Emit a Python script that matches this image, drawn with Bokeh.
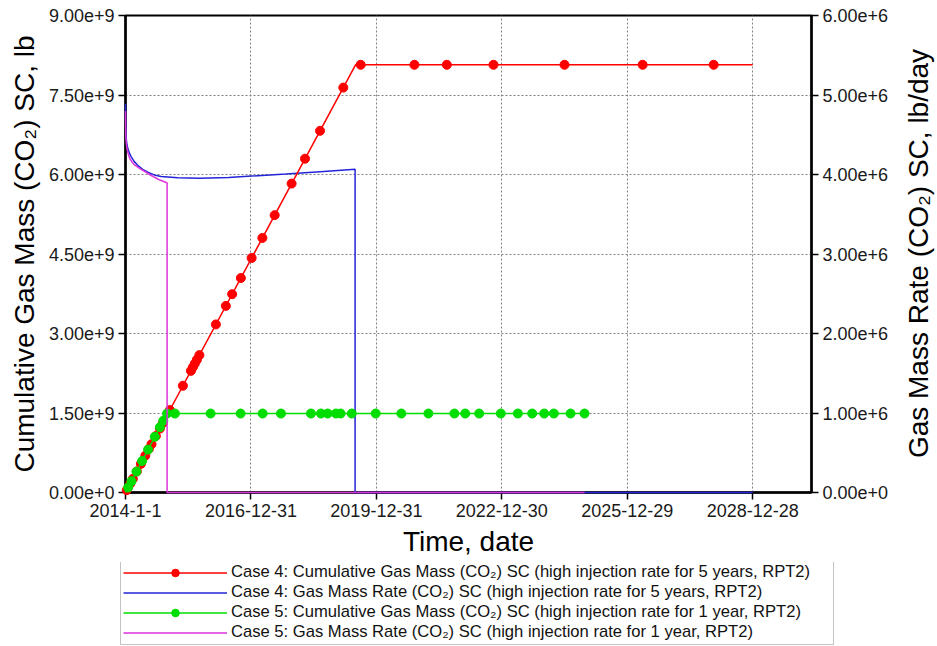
import math
import pandas as pd
from bokeh.plotting import figure
from bokeh.layouts import column, row
from bokeh.models import (Range1d, LinearAxis, FixedTicker, CustomJSTickFormatter,
                          DatetimeTickFormatter, Legend, LegendItem, Label)
from bokeh.embed import file_html
from bokeh.resources import INLINE

START = pd.Timestamp("2014-01-01")
END_DAY = 5988            # right edge of the time axis, days after START
TICK_DAYS = [0, 1095, 2190, 3285, 4380, 5475]

# Case 4: cumulative gas mass (lb), line vertices and reported points
case4_cum_day = [0, 2008, 5475]
case4_cum_val = [0.0, 8.07e9, 8.07e9]
case4_mark_day = [11, 42, 64, 99, 134, 173, 204, 227, 265, 300, 326, 387, 501,
                  571, 588, 605, 623, 645, 789, 876, 931, 1007, 1101, 1195, 1302,
                  1450, 1567, 1698, 1901, 2053, 2522, 2805, 3212, 3832, 4514, 5134]
case4_mark_val = [4.42e7, 1.69e8, 2.57e8, 3.98e8, 5.39e8, 6.95e8, 8.20e8, 9.12e8,
                  1.065e9, 1.206e9, 1.310e9, 1.555e9, 2.014e9, 2.295e9, 2.363e9,
                  2.432e9, 2.504e9, 2.592e9, 3.171e9, 3.521e9, 3.742e9, 4.047e9,
                  4.425e9, 4.803e9, 5.233e9, 5.828e9, 6.298e9, 6.824e9, 7.640e9,
                  8.07e9, 8.07e9, 8.07e9, 8.07e9, 8.07e9, 8.07e9, 8.07e9]

# Case 4: gas mass rate (lb/day)
case4_rate_day = [0, 1, 3, 6, 12, 20, 35, 49, 75, 107, 150, 195, 250, 311, 457,
                  650, 900, 1100, 1400, 1700, 2004, 2004, 5475]
case4_rate_val = [4.89e6, 4.70e6, 4.56e6, 4.46e6, 4.38e6, 4.33e6, 4.265e6, 4.225e6,
                  4.165e6, 4.115e6, 4.065e6, 4.03e6, 3.995e6, 3.975e6, 3.958e6,
                  3.952e6, 3.962e6, 3.98e6, 4.005e6, 4.035e6, 4.065e6, 0.0, 0.0]

# Case 5: cumulative gas mass (lb), line vertices and reported points
case5_cum_day = [0, 363, 4007]
case5_cum_val = [0.0, 1.49e9, 1.49e9]
case5_mark_day = [23, 52, 96, 145, 197, 256, 300, 330, 363, 431, 743, 1005, 1197,
                  1357, 1619, 1706, 1765, 1837, 1878, 1975, 2184, 2408, 2644, 2871,
                  2965, 3087, 3276, 3425, 3550, 3655, 3739, 3885, 4007]
case5_mark_val = [9.4e7, 2.13e8, 3.94e8, 5.95e8, 8.09e8, 1.051e9, 1.232e9, 1.355e9] + \
                 [1.49e9] * 25

# Case 5: gas mass rate (lb/day)
case5_rate_day = [0, 1, 3, 8, 14, 25, 35, 55, 79, 120, 166, 210, 253, 300, 355,
                  363, 363, 4007]
case5_rate_val = [4.80e6, 4.60e6, 4.48e6, 4.38e6, 4.32e6, 4.255e6, 4.21e6, 4.16e6,
                  4.12e6, 4.08e6, 4.04e6, 4.0e6, 3.965e6, 3.93e6, 3.90e6, 3.895e6,
                  0.0, 0.0]

CUM_TICKS = [0, 1.5e9, 3.0e9, 4.5e9, 6.0e9, 7.5e9, 9.0e9]
RATE_TICKS = [0, 1e6, 2e6, 3e6, 4e6, 5e6, 6e6]

RATE_TITLE = "Gas Mass Rate (CO\u2082) SC, lb/day"
LEGEND_LABELS = [
    "Case 4: Cumulative Gas Mass (CO\u2082) SC (high injection rate for 5 years, RPT2)",
    "Case 4: Gas Mass Rate (CO\u2082) SC (high injection rate for 5 years, RPT2)",
    "Case 5: Cumulative Gas Mass (CO\u2082) SC (high injection rate for 1 year, RPT2)",
    "Case 5: Gas Mass Rate (CO\u2082) SC (high injection rate for 1 year, RPT2)",
]

RED, BLUE, GREEN, MAGENTA = "#ff0000", "#2424d8", "#00dd00", "#dd33dd"
FONT = "Liberation Sans"


def to_dates(days):
    return START + pd.to_timedelta(days, unit="D")


def to_ms(day):
    return (START + pd.Timedelta(days=day)).value / 1e6


def unaligned(fig):
    # keep a helper panel's frame independent of the main chart's frame
    if hasattr(fig, "frame_align"):
        fig.frame_align = False
    fig.outline_line_color = None
    fig.grid.visible = False
    return fig


# ---- main chart -----------------------------------------------------------
p = figure(width=900, height=562, x_axis_type="datetime",
           x_range=Range1d(to_ms(0), to_ms(END_DAY)), y_range=Range1d(0, 9e9),
           output_backend="svg", toolbar_location=None,
           min_border_left=125, min_border_right=89, min_border_top=15,
           min_border_bottom=70)
p.extra_y_ranges = {"rate": Range1d(0, 6e6)}

sci = CustomJSTickFormatter(code="return tick.toExponential(2);")

p.xaxis.ticker = FixedTicker(ticks=[to_ms(d) for d in TICK_DAYS])
fmt = "%Y-%-m-%-d"
p.xaxis.formatter = DatetimeTickFormatter(
    microseconds=fmt, milliseconds=fmt, seconds=fmt, minsec=fmt, minutes=fmt,
    hourmin=fmt, hours=fmt, days=fmt, months=fmt, years=fmt)
p.xaxis.axis_label = "Time, date"

p.yaxis.ticker = FixedTicker(ticks=CUM_TICKS)
p.yaxis.formatter = sci
p.yaxis.axis_label = "Cumulative Gas Mass (CO\u2082) SC, lb"

raxis = LinearAxis(y_range_name="rate", ticker=FixedTicker(ticks=RATE_TICKS),
                   formatter=sci)
p.add_layout(raxis, "right")

for ax in p.axis:
    ax.axis_line_color = "black"
    ax.axis_line_width = 2.5
    ax.major_tick_line_color = "black"
    ax.major_tick_line_width = 1.5
    ax.major_tick_out = 7
    ax.major_tick_in = 0
    ax.minor_tick_out = 0
    ax.minor_tick_in = 0
    ax.major_label_text_font = FONT
    ax.major_label_text_font_size = "18px"
    ax.major_label_text_color = "#1a1a1a"
    ax.major_label_standoff = 4
    ax.axis_label_text_font = FONT
    ax.axis_label_text_font_size = "28px"
    ax.axis_label_text_font_style = "normal"
    ax.axis_label_text_color = "black"
    ax.axis_label_standoff = 6

for g in (p.xgrid[0], p.ygrid[0]):
    g.grid_line_color = "#808080"
    g.grid_line_dash = "2 2"
    g.grid_line_width = 1

p.outline_line_color = "black"
p.outline_line_width = 2


def draw_series(fig, **extra):
    """Draw the four series on fig; returns the renderers for the legend."""
    kw = dict(line_width=1.5, **extra)
    b = fig.line(to_dates(case4_rate_day), case4_rate_val, y_range_name="rate",
                 line_color=BLUE, **kw)
    rl = fig.line(to_dates(case4_cum_day), case4_cum_val, line_color=RED, **kw)
    rm = fig.scatter(to_dates(case4_mark_day), case4_mark_val, size=9,
                     fill_color=RED, line_color=RED, **extra)
    gl = fig.line(to_dates(case5_cum_day), case5_cum_val, line_color=GREEN, **kw)
    gm = fig.scatter(to_dates(case5_mark_day), case5_mark_val, size=9,
                     fill_color=GREEN, line_color=GREEN, **extra)
    m = fig.line(to_dates(case5_rate_day), case5_rate_val, y_range_name="rate",
                 line_color=MAGENTA, **kw)
    return [[rl, rm], [b], [gl, gm], [m]]


draw_series(p, level="overlay")

# ---- right-hand axis title, reading bottom to top --------------------------
rt = unaligned(figure(width=37, height=562, x_range=Range1d(0, 37),
                      y_range=Range1d(0, 562), output_backend="svg",
                      toolbar_location=None, x_axis_location=None,
                      y_axis_location=None, min_border_left=0, min_border_right=0,
                      min_border_top=0, min_border_bottom=0))
rt.add_layout(Label(x=18, y=309, x_units="screen", y_units="screen", text=RATE_TITLE,
                    angle=math.pi / 2, text_align="center", text_baseline="middle",
                    text_font=FONT, text_font_size="28px", text_color="black"))

# ---- legend strip under the chart -------------------------------------------
# the series are drawn again here outside the visible window, as legend samples
leg = unaligned(figure(width=937, height=84, x_range=Range1d(0, 1),
                       y_range=Range1d(0, 1), output_backend="svg",
                       toolbar_location=None, x_axis_location=None,
                       y_axis_location=None, min_border_left=0, min_border_right=0,
                       min_border_top=0, min_border_bottom=0))
leg.extra_y_ranges = {"rate": Range1d(0, 1)}
samples = draw_series(leg)

legend = Legend(items=[LegendItem(label=lab, renderers=rs)
                       for lab, rs in zip(LEGEND_LABELS, samples)],
                location=(120, 1), orientation="vertical",
                glyph_width=104, glyph_height=19, label_height=19, label_width=600,
                spacing=0, padding=2, margin=0, label_standoff=4,
                border_line_color="#888888", border_line_width=1.5,
                label_text_font=FONT, label_text_font_size="16.6px",
                label_text_color="#111111", background_fill_alpha=1)
leg.add_layout(legend)

layout = column(row(p, rt, spacing=0), leg, spacing=0)
open("out.html", "w").write(file_html(layout, INLINE))
